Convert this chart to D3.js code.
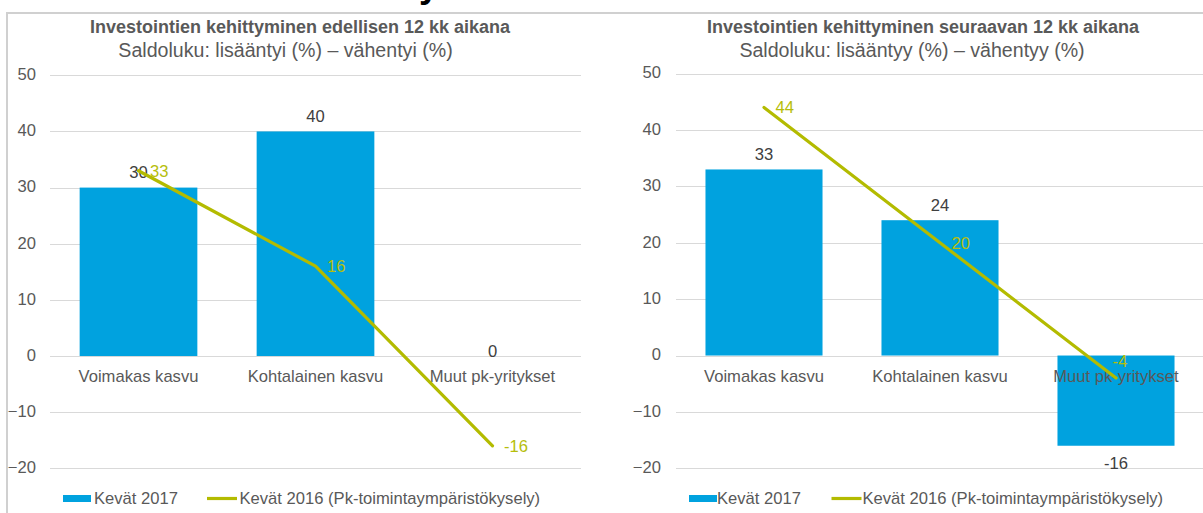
<!DOCTYPE html>
<html>
<head>
<meta charset="utf-8">
<script src="https://cdn.jsdelivr.net/npm/d3@7"></script>
<style>
  html, body { margin: 0; padding: 0; background: #fff; }
  svg { display: block; font-family: "Liberation Sans", Arial, sans-serif; }
</style>
</head>
<body>
<svg id="chart" width="1203" height="513"></svg>
<script>
// ---------- data ----------
const categories = ["Voimakas kasvu", "Kohtalainen kasvu", "Muut pk-yritykset"];
const leftBarValues = [30, 40, 0];        // Kevät 2017, edellisen 12 kk
const leftLineValues = [33, 16, -16];     // Kevät 2016, edellisen 12 kk
const rightBarValues = [33, 24, -16];     // Kevät 2017, seuraavan 12 kk
const rightLineValues = [44, 20, -4];     // Kevät 2016, seuraavan 12 kk
const yTickValues = [-20, -10, 0, 10, 20, 30, 40, 50];
const seriesNames = ["Kevät 2017", "Kevät 2016 (Pk-toimintaympäristökysely)"];
const panelTitles = ["Investointien kehittyminen edellisen 12 kk aikana",
                     "Investointien kehittyminen seuraavan 12 kk aikana"];
const panelSubtitles = ["Saldoluku: lisääntyi (%) – vähentyi (%)",
                        "Saldoluku: lisääntyy (%) – vähentyy (%)"];

// ---------- style ----------
const BAR = "#00a2df";
const LINE = "#b3bb00";
const LINE_TXT = "#b6be0c";
const TXT = "#595959";
const LBL = "#404040";
const GRID = "#d9d9d9";
const FS = 16.6;

const svg = d3.select("#chart");

// outer frame (partial slide border)
svg.append("line").attr("x1", 7).attr("x2", 1203).attr("y1", 13).attr("y2", 13)
  .attr("stroke", "#d0d0d0").attr("stroke-width", 2);
svg.append("line").attr("x1", 7).attr("x2", 7).attr("y1", 12).attr("y2", 513)
  .attr("stroke", "#d0d0d0").attr("stroke-width", 2);
// cut-off slide heading glyph at the very top
svg.append("text").attr("x", 419).attr("y", -3).attr("font-size", 36)
  .attr("font-weight", "bold").attr("fill", "#000").text("y");

const panels = [
  { bars: leftBarValues, line: leftLineValues, title: panelTitles[0], subtitle: panelSubtitles[0],
    band: [50, 581], grid: [50, 581], y: [468.3, 75.3], tickX: 36,
    titleX: 300, subX: 285.5,
    legRect: 63, legText1: 94, legLine: 207, legText2: 239.5,
    lineLabelPos: ["right", "right", "right"] },
  { bars: rightBarValues, line: rightLineValues, title: panelTitles[1], subtitle: panelSubtitles[1],
    band: [676, 1204], grid: [676, 1203], y: [468.3, 73.6], tickX: 661,
    titleX: 923, subX: 912,
    legRect: 689, legText1: 717, legLine: 831.5, legText2: 862.5,
    lineLabelPos: ["right", "right", "above"] }
];

panels.forEach(drawPanel);

function drawPanel(p) {
  const g = svg.append("g");
  const x = d3.scaleBand().domain(categories).range(p.band)
    .paddingInner(0.335).paddingOuter(0.1675);
  const y = d3.scaleLinear().domain([-20, 50]).range(p.y);

  // titles
  g.append("text").attr("x", p.titleX).attr("y", 32.5).attr("text-anchor", "middle")
    .attr("font-size", 18).attr("font-weight", "bold").attr("fill", TXT).text(p.title);
  g.append("text").attr("x", p.subX).attr("y", 57).attr("text-anchor", "middle")
    .attr("font-size", 19.6).attr("fill", TXT).text(p.subtitle);

  // gridlines
  g.selectAll("line.grid").data(yTickValues).join("line").attr("class", "grid")
    .attr("x1", p.grid[0]).attr("x2", p.grid[1])
    .attr("y1", d => Math.round(y(d)) + 0.5).attr("y2", d => Math.round(y(d)) + 0.5)
    .attr("stroke", GRID).attr("stroke-width", 1);

  // y axis labels via d3 axis
  const yAxis = d3.axisLeft(y).tickValues(yTickValues).tickSize(0).tickPadding(0)
    .tickFormat(d3.format("d"));
  const ag = g.append("g").attr("transform", `translate(${p.tickX},0)`).call(yAxis);
  ag.select(".domain").remove();
  ag.selectAll("text").attr("font-size", FS).attr("fill", TXT)
    .attr("font-family", "'Liberation Sans', Arial, sans-serif")
    .attr("dy", null).attr("dominant-baseline", null)
    .attr("y", 4.3);

  // bars
  g.selectAll("rect.bar").data(p.bars).join("rect").attr("class", "bar")
    .attr("x", (d, i) => x(categories[i]))
    .attr("width", x.bandwidth())
    .attr("y", d => y(Math.max(0, d)))
    .attr("height", d => Math.abs(y(d) - y(0)))
    .attr("fill", BAR);

  // category labels
  g.selectAll("text.cat").data(categories).join("text").attr("class", "cat")
    .attr("x", d => x(d) + x.bandwidth() / 2).attr("y", 382)
    .attr("text-anchor", "middle").attr("font-size", FS).attr("fill", TXT).text(d => d);

  // bar value labels
  g.selectAll("text.bl").data(p.bars).join("text").attr("class", "bl")
    .attr("x", (d, i) => x(categories[i]) + x.bandwidth() / 2)
    .attr("y", d => d > 0 ? y(d) - 9.5 : d < 0 ? y(d) + 22.8 : y(0) + 0.5)
    .attr("text-anchor", "middle").attr("font-size", FS).attr("fill", LBL).text(d => d);

  // line
  const lineGen = d3.line().x((d, i) => x(categories[i]) + x.bandwidth() / 2).y(d => y(d));
  g.append("path").datum(p.line).attr("d", lineGen).attr("fill", "none")
    .attr("stroke", LINE).attr("stroke-width", 3.2).attr("stroke-linecap", "round")
    .attr("stroke-linejoin", "round");

  // line labels
  g.selectAll("text.ll").data(p.line).join("text").attr("class", "ll")
    .attr("x", (d, i) => {
      const cx = x(categories[i]) + x.bandwidth() / 2;
      return p.lineLabelPos[i] === "above" ? cx + 4 : cx + 11.5;
    })
    .attr("y", (d, i) => p.lineLabelPos[i] === "above" ? y(d) - 11.5 : y(d) + 6)
    .attr("text-anchor", (d, i) => p.lineLabelPos[i] === "above" ? "middle" : "start")
    .attr("font-size", FS).attr("fill", LINE_TXT).text(d => d);

  // legend
  g.append("rect").attr("x", p.legRect).attr("y", 495).attr("width", 28).attr("height", 7)
    .attr("fill", BAR);
  g.append("text").attr("x", p.legText1).attr("y", 503.5).attr("font-size", FS)
    .attr("fill", TXT).text(seriesNames[0]);
  g.append("line").attr("x1", p.legLine).attr("x2", p.legLine + 30)
    .attr("y1", 498.5).attr("y2", 498.5).attr("stroke", LINE).attr("stroke-width", 3.2);
  g.append("text").attr("x", p.legText2).attr("y", 503.5).attr("font-size", FS)
    .attr("fill", TXT).text(seriesNames[1]);
}
</script>
</body>
</html>
